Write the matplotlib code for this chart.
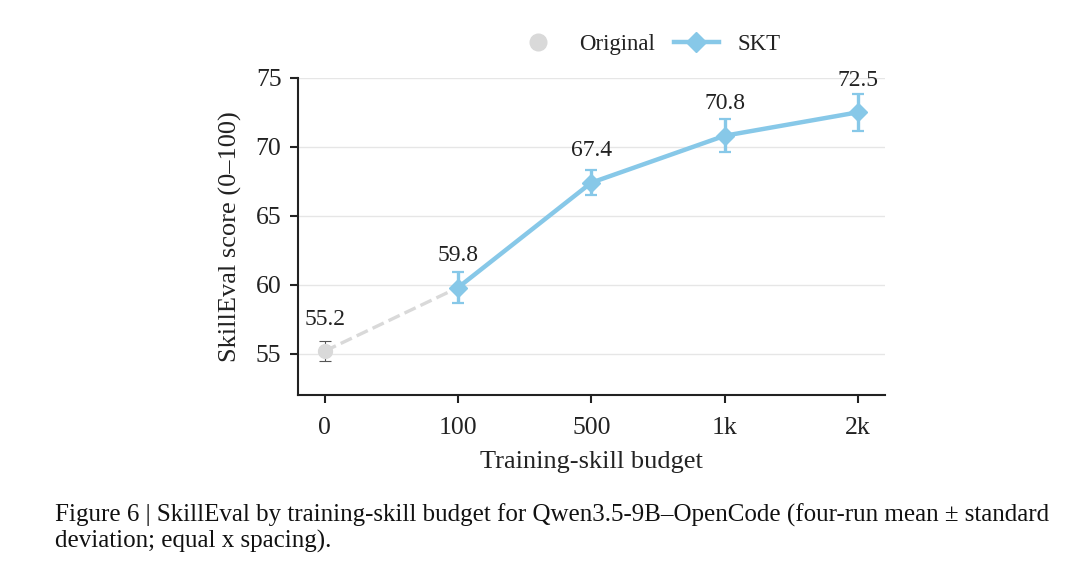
import numpy as np
import matplotlib.pyplot as plt

plt.rcParams['font.family'] = ['Liberation Serif', 'DejaVu Serif']

budgets = ["0", "100", "500", "1k", "2k"]
orig_score = 55.2
orig_std = 0.7
skt_scores = [59.8, 67.4, 70.8, 72.5]
skt_std = [1.1, 0.9, 1.2, 1.35]

blue = "#87c8e8"
grey = "#d9d9d9"

x = np.arange(len(budgets))

fig = plt.figure(figsize=(10.8, 5.72), dpi=100)
ax = fig.add_axes([0.276, 0.309, 0.543, 0.555])

# dashed link from original to first SKT point
ax.plot([x[0], x[1]], [orig_score, skt_scores[0]], '--', color=grey, lw=2.4, zorder=1)

ax.errorbar(x[0], orig_score, yerr=orig_std, fmt='o', color=grey, ms=10,
            ecolor='#555555', elinewidth=0.8, capsize=4, capthick=0.8, zorder=3)
ax.errorbar(x[1:], skt_scores, yerr=skt_std, fmt='-D', color=blue, ms=9, lw=3.2,
            elinewidth=2.4, capsize=4, capthick=1.6, zorder=2)

ax.annotate(f"{orig_score}", (x[0], orig_score), xytext=(0, 19), textcoords='offset points',
            ha='center', fontsize=17, color='#222222')
for xi, v in zip(x[1:], skt_scores):
    ax.annotate(f"{v}", (xi, v), xytext=(0, 19), textcoords='offset points',
                ha='center', fontsize=17, color='#222222')

ax.set_xlim(-0.2, 4.2)
ax.set_ylim(52, 75)
ax.set_yticks([55, 60, 65, 70, 75])
ax.set_xticks(x)
ax.set_xticklabels(budgets)
ax.tick_params(labelsize=18.5, width=1.5, length=6, colors='#222222')
ax.tick_params(axis='x', pad=10)
ax.tick_params(axis='y', pad=6)
ax.yaxis.grid(True, color='#e6e6e6', lw=1)
ax.set_axisbelow(True)
for s in ['top', 'right']:
    ax.spines[s].set_visible(False)
for s in ['left', 'bottom']:
    ax.spines[s].set_linewidth(1.5)
    ax.spines[s].set_color('#222222')

ax.set_xlabel("Training-skill budget", fontsize=19, color='#222222', labelpad=8)
ax.set_ylabel("SkillEval score (0\u2013100)", fontsize=19, color='#222222', labelpad=10)

h1 = plt.Line2D([], [], marker='o', ls='', color=grey, ms=12)
h2 = plt.Line2D([], [], marker='D', ls='-', color=blue, ms=10, lw=3.2)
fig.legend([h1, h2], ["Original", "SKT"], loc='center', bbox_to_anchor=(0.6, 0.923),
           ncol=2, frameon=False, fontsize=16.5, handlelength=2, columnspacing=0.8,
           labelcolor='#222222')

fig.text(0.051, 0.1, "Figure 6 | SkillEval by training-skill budget for Qwen3.5-9B\u2013OpenCode (four-run mean \u00b1 standard",
         fontsize=18, color='#111111', va='center')
fig.text(0.051, 0.053, "deviation; equal x spacing).", fontsize=18, color='#111111', va='center')

fig.savefig("out.png", dpi=100)
